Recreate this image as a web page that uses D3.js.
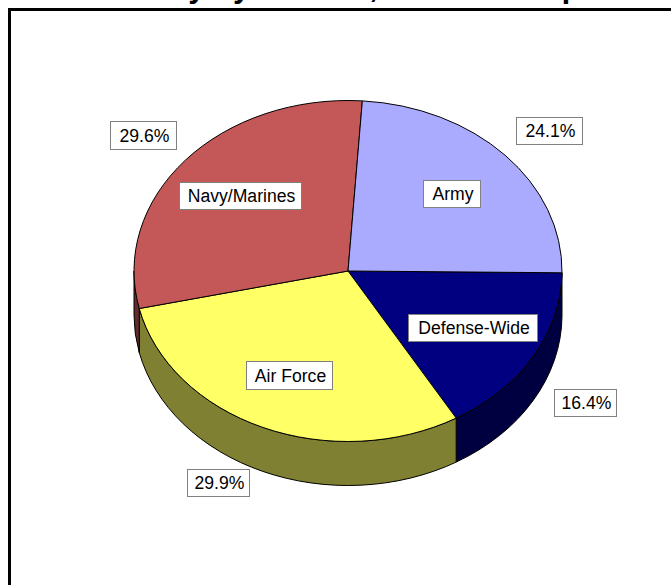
<!DOCTYPE html>
<html><head><meta charset="utf-8">
<script src="https://cdn.jsdelivr.net/npm/d3@7"></script>
<style>html,body{margin:0;padding:0;background:#fff;overflow:hidden}text{font-family:"Liberation Sans",Arial,sans-serif}</style>
</head><body><svg id="c" width="671" height="585"></svg>
<script>
const titleText="Military by Service, FY 2009 Request";
const categories=["Defense-Wide","Air Force","Navy/Marines","Army"];
const values=[16.4,29.9,29.6,24.1];
const topColors=["#000080","#FFFF66","#C45858","#AAAAFF"];
const sideColors=["#000040","#808033","#622C2C","#555580"];
const nameBoxes=[[408,314,130,28],[246,361,87,29],[179,182,123,28],[423,180,58,28]];
const pctBoxes=[[554,389,63,28],[187,469,63,28],[110,121,67,29],[516,117,67,28]];

const svg=d3.select("#c");
const cx=348,cy=271,rx=214,ry=170.5,depth=44;
const sx=d3.scaleLinear().domain([-1,1]).range([cx-rx,cx+rx]);
const sy=d3.scaleLinear().domain([-1,1]).range([cy-ry,cy+ry]);
const rot=0.6*Math.PI/180;
const pie=d3.pie().sort(null).value(d=>d).startAngle(rot).endAngle(2*Math.PI+rot);
const arcs=pie(values);
const px=a=>sx(Math.cos(a)), py=a=>sy(Math.sin(a));

svg.append("text").attr("x",97).attr("y",-3)
  .attr("font-size",31).attr("font-weight","bold").text(titleText);
svg.append("path").attr("d","M9.5,585V9.5H671").attr("fill","none").attr("stroke","#000").attr("stroke-width",3);

arcs.forEach((d,i)=>{
  const a0=Math.max(d.startAngle,0),a1=Math.min(d.endAngle,Math.PI);
  if(a1<=a0)return;
  const large=(a1-a0)>Math.PI?1:0;
  const p=`M${px(a0)},${py(a0)}A${rx},${ry} 0 ${large} 1 ${px(a1)},${py(a1)}`+
    `L${px(a1)},${py(a1)+depth}A${rx},${ry} 0 ${large} 0 ${px(a0)},${py(a0)+depth}Z`;
  svg.append("path").attr("d",p).attr("fill",sideColors[i]).attr("stroke","#000").attr("stroke-width",1);
});
arcs.forEach((d,i)=>{
  const large=(d.endAngle-d.startAngle)>Math.PI?1:0;
  const p=`M${cx},${cy}L${px(d.startAngle)},${py(d.startAngle)}A${rx},${ry} 0 ${large} 1 ${px(d.endAngle)},${py(d.endAngle)}Z`;
  svg.append("path").attr("d",p).attr("fill",topColors[i]).attr("stroke","#000").attr("stroke-width",1);
});
function box(b,t,stroke){
  svg.append("rect").attr("x",b[0]+.5).attr("y",b[1]+.5).attr("width",b[2]-1).attr("height",b[3]-1)
    .attr("fill","#fff").attr("stroke",stroke);
  svg.append("text").attr("x",b[0]+b[2]/2+1).attr("y",b[1]+b[3]/2+6).attr("text-anchor","middle")
    .attr("font-size",17.6).attr("fill","#000").text(t);
}
categories.forEach((c,i)=>box(nameBoxes[i],c,"#808080"));
values.forEach((v,i)=>box(pctBoxes[i],v.toFixed(1)+"%","#808080"));
</script></body></html>
